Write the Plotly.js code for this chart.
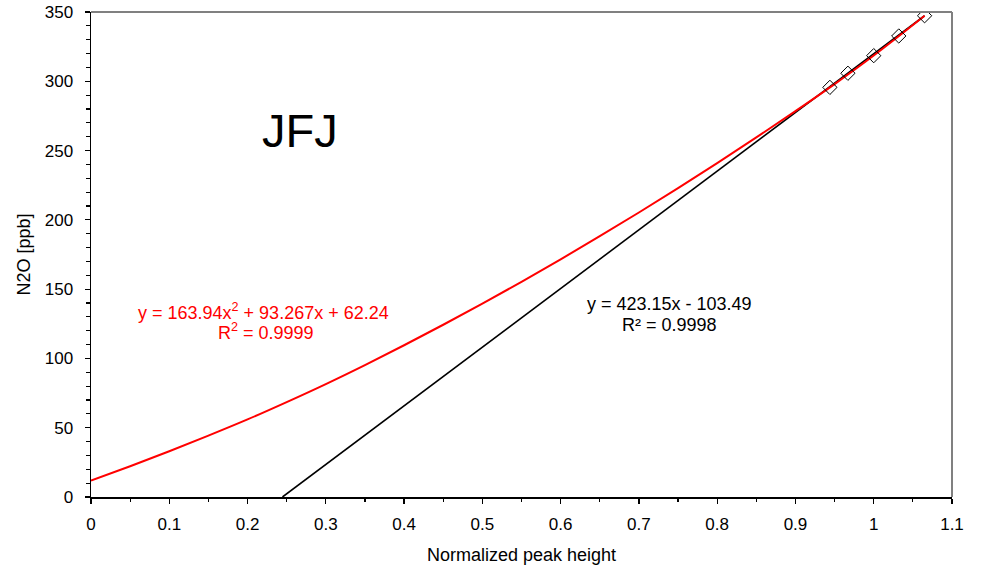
<!DOCTYPE html>
<html>
<head>
<meta charset="utf-8">
<script src="https://cdn.plot.ly/plotly-3.0.1.min.js"></script>
<style>html,body{margin:0;padding:0;background:#fff;}#chart{width:985px;height:569px;}</style>
</head>
<body>
<div id="chart"></div>
<script>
// Measured calibration points
const pointX = [0.944, 0.967, 1.000, 1.032, 1.065];
const pointY = [295.6, 305.8, 318.5, 332.7, 347.3];

// Linear fit line (as drawn)
const linX = [0.2446, 1.065];
const linY = [0, 347.3];

// Polynomial fit curve (as drawn)
const polyX = [0, 0.05, 0.1, 0.15, 0.2, 0.25, 0.3, 0.35, 0.4, 0.45, 0.5, 0.55, 0.6, 0.65, 0.7, 0.75, 0.8, 0.85, 0.9, 0.95, 1.0, 1.065];
const polyY = [11.8, 22.2, 33, 44.3, 56, 68.5, 81.5, 95.2, 109.5, 124.3, 139.5, 155.3, 171.5, 188.2, 205.3, 222.9, 241, 259.5, 278.5, 298, 318.6, 347.3];

const xTickVals = [0, 0.1, 0.2, 0.3, 0.4, 0.5, 0.6, 0.7, 0.8, 0.9, 1, 1.1];
const xTickText = ["0", "0.1", "0.2", "0.3", "0.4", "0.5", "0.6", "0.7", "0.8", "0.9", "1", "1.1"];
const yTickVals = [0, 50, 100, 150, 200, 250, 300, 350];

const FONT = "Liberation Sans, Arial, sans-serif";

const traces = [
  {x: linX, y: linY, mode: "lines", line: {color: "#000000", width: 1.6}, hoverinfo: "skip"},
  {x: polyX, y: polyY, mode: "lines", line: {color: "#ff0000", width: 2, shape: "spline"}, hoverinfo: "skip"},
  {x: pointX, y: pointY, mode: "markers",
   marker: {symbol: "diamond-open", size: 11, color: "#000000", line: {width: 1, color: "#000000"}}}
];

const layout = {
  width: 985, height: 569,
  margin: {l: 91, r: 33, t: 12, b: 72},
  paper_bgcolor: "#ffffff", plot_bgcolor: "#ffffff",
  showlegend: false,
  font: {family: FONT, size: 17, color: "#000000"},
  xaxis: {
    range: [0, 1.1], tickvals: xTickVals, ticktext: xTickText,
    showgrid: false, zeroline: false, showline: true, linecolor: "#000000", linewidth: 1.5,
    ticks: "outside", ticklen: 5, tickwidth: 1.2, tickcolor: "#000000",
    minor: {dtick: 0.05, ticks: "outside", ticklen: 3, tickcolor: "#000000", showgrid: false},
    tickfont: {family: FONT, size: 17}, ticklabelstandoff: 6,
    title: {text: "Normalized peak height", font: {family: FONT, size: 18}, standoff: 15}
  },
  yaxis: {
    range: [0, 350], tickvals: yTickVals,
    showgrid: false, zeroline: false, showline: true, linecolor: "#000000", linewidth: 1.5,
    ticks: "outside", ticklen: 5, tickwidth: 1.2, tickcolor: "#000000",
    minor: {dtick: 10, ticks: "outside", ticklen: 4, tickcolor: "#000000", showgrid: false},
    tickfont: {family: FONT, size: 17}, ticklabelstandoff: 8,
    title: {text: "N2O [ppb]", font: {family: FONT, size: 18}, standoff: 9}
  },
  shapes: [
    {type: "line", xref: "paper", yref: "paper", x0: 0, x1: 1, y0: 1, y1: 1, line: {color: "#808080", width: 2}},
    {type: "line", xref: "paper", yref: "paper", x0: 1, x1: 1, y0: 0, y1: 1, line: {color: "#808080", width: 2}}
  ],
  annotations: [
    {x: 0.267, y: 264.8, xref: "x", yref: "y", text: "JFJ", showarrow: false,
     font: {family: FONT, size: 47, color: "#000000"}, xanchor: "center", yanchor: "middle"},
    {x: 0.2204, y: 134.0, xref: "x", yref: "y", text: "y = 163.94x<sup>2</sup> + 93.267x + 62.24", showarrow: false,
     font: {family: FONT, size: 18, color: "#ff0000"}, xanchor: "center", yanchor: "middle"},
    {x: 0.2235, y: 119.5, xref: "x", yref: "y", text: "R<sup>2</sup> = 0.9999", showarrow: false,
     font: {family: FONT, size: 18, color: "#ff0000"}, xanchor: "center", yanchor: "middle"},
    {x: 0.7397, y: 139.0, xref: "x", yref: "y", text: "y = 423.15x - 103.49", showarrow: false,
     font: {family: FONT, size: 18, color: "#000000"}, xanchor: "center", yanchor: "middle"},
    {x: 0.7397, y: 124.0, xref: "x", yref: "y", text: "R² = 0.9998", showarrow: false,
     font: {family: FONT, size: 18, color: "#000000"}, xanchor: "center", yanchor: "middle"}
  ]
};

Plotly.newPlot("chart", traces, layout, {displayModeBar: false, staticPlot: true});
</script>
</body>
</html>
